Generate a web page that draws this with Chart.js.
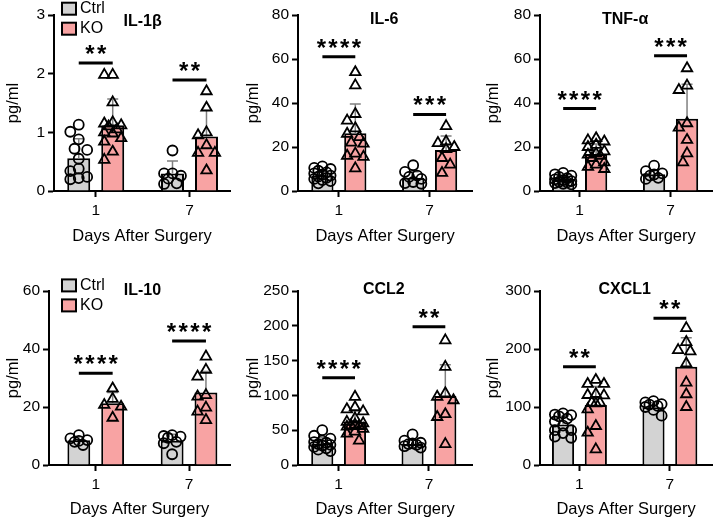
<!DOCTYPE html>
<html>
<head>
<meta charset="utf-8">
<script src="https://cdn.jsdelivr.net/npm/chart.js@4.4.1/dist/chart.umd.min.js"></script>
<style>
  body { margin: 0; background: #fff; }
  #wrap { position: relative; width: 720px; height: 523px; }
  #wrap canvas { position: absolute; }
</style>
</head>
<body>
<div id="wrap"></div>
<script>
// ---- data ----
const days = ['1', '7'];
const groups = ['Ctrl', 'KO'];

// IL-1β
const il1bCtrlD1 = [1.13, 1.01, 0.88, 0.72, 0.70, 0.55, 0.38, 0.34, 0.24, 0.22, 0.20];
const il1bCtrlD7 = [0.69, 0.30, 0.30, 0.26, 0.21, 0.13, 0.12];
const il1bKoD1 = [1.98, 1.98, 1.51, 1.17, 1.15, 1.12, 1.10, 1.05, 1.00, 0.98, 0.90, 0.84, 0.67, 0.53];
const il1bKoD7 = [1.70, 1.42, 1.00, 0.95, 0.78, 0.65, 0.65, 0.35];
const il1bMean = { ctrl: [0.56, 0.30], ko: [1.12, 0.93] };
const il1bSd = { ctrl: [0.33, 0.21], ko: [0.45, 0.45] };
const il1bSig = ['**', '**'];
const il1bSigY = [2.18, 1.89];

// IL-6
const il6CtrlD1 = [11.2, 10.5, 10.0, 9.2, 8.5, 8.0, 7.5, 7.0, 6.5, 6.0, 5.5, 5.0, 4.5, 3.5];
const il6CtrlD7 = [11.7, 8.7, 7.0, 6.4, 5.5, 4.1, 3.6, 3.3];
const il6KoD1 = [54, 48, 35, 32, 28.5, 26, 24.5, 22, 21.5, 17, 16, 15.5, 10.3];
const il6KoD7 = [29.5, 22.5, 21.8, 20.0, 19.0, 15.0, 12.0, 8.2];
const il6Mean = { ctrl: [7.1, 6.0], ko: [26.3, 18.6] };
const il6Sd = { ctrl: [2.2, 2.7], ko: [13.3, 6.4] };
const il6Sig = ['****', '***'];
const il6SigY = [61, 34.8];

// TNF-α
const tnfCtrlD1 = [8.2, 7.6, 7.0, 6.4, 5.8, 5.3, 4.9, 4.5, 4.2, 3.9, 3.6, 3.3, 3.0];
const tnfCtrlD7 = [11.5, 9.0, 8.0, 7.5, 7.0, 6.0, 5.5];
const tnfKoD1 = [24, 23, 22.5, 21, 20, 18, 17, 16.5, 16, 15, 13, 12, 11, 10];
const tnfKoD7 = [55.8, 47.9, 45.9, 30.8, 28.8, 23.2, 17.1, 13.0];
const tnfMean = { ctrl: [5.0, 7.6], ko: [16.8, 32.8] };
const tnfSd = { ctrl: [1.6, 2.0], ko: [4.6, 15.7] };
const tnfSig = ['****', '***'];
const tnfSigY = [37.5, 61.5];

// IL-10
const il10CtrlD1 = [10.3, 9.2, 8.6, 8.3, 8.0, 6.9];
const il10CtrlD7 = [10.3, 10.0, 9.8, 9.4, 8.0, 7.5, 3.7];
const il10KoD1 = [26.4, 22.8, 20.7, 20.1, 16.3];
const il10KoD7 = [37.4, 32.8, 30.5, 24.1, 23.6, 19.8, 18.4, 15.5];
const il10Mean = { ctrl: [8.5, 8.4], ko: [21.3, 25.0] };
const il10Sd = { ctrl: [1.2, 2.2], ko: [3.7, 7.2] };
const il10Sig = ['****', '****'];
const il10SigY = [31.6, 42.8];

// CCL2
const ccl2CtrlD1 = [50, 42, 38, 35, 33, 32, 30, 29, 28, 26, 24, 22, 20];
const ccl2CtrlD7 = [44, 35, 32, 31, 30, 29, 27, 25];
const ccl2KoD1 = [98, 83, 80, 77, 67, 62, 60, 58, 57, 56, 55, 52, 48, 45, 35];
const ccl2KoD7 = [179, 141, 103, 98, 93, 73, 69, 30];
const ccl2Mean = { ctrl: [31, 30], ko: [62, 99] };
const ccl2Sd = { ctrl: [8, 5.5], ko: [16, 45] };
const ccl2Sig = ['****', '**'];
const ccl2SigY = [125.5, 198.8];

// CXCL1
const cxcl1CtrlD1 = [89, 87, 86, 84, 80, 75, 68, 60, 60, 55, 49, 47];
const cxcl1CtrlD7 = [110, 108, 105, 104, 102, 100, 95, 85];
const cxcl1KoD1 = [146.6, 139.7, 139.7, 122.4, 120.7, 120, 107.5, 107.5, 106.3, 96, 67.2, 55.7, 27];
const cxcl1KoD7 = [236, 212, 198, 196, 175, 142, 122, 100];
const cxcl1Mean = { ctrl: [70, 99.4], ko: [103.4, 169.5] };
const cxcl1Sd = { ctrl: [14, 8], ko: [32, 50] };
const cxcl1Sig = ['**', '**'];
const cxcl1SigY = [169.5, 252.9];

// ---- panel layout ----
const panels = [
  { title: 'IL-1β', pts: [il1bCtrlD1, il1bCtrlD7, il1bKoD1, il1bKoD7], mean: il1bMean, sd: il1bSd, sig: il1bSig, sigY: il1bSigY,
    yMax: 3, yStep: 1, left: 0, top: 0, axisLeft: 54, right: 230, areaTop: 15, areaBottom: 191, xMin: -0.445, xMax: 1.432, titleY: 21.5, legendTop: 2 },
  { title: 'IL-6', pts: [il6CtrlD1, il6CtrlD7, il6KoD1, il6KoD7], mean: il6Mean, sd: il6Sd, sig: il6Sig, sigY: il6SigY,
    yMax: 80, yStep: 20, left: 240, top: 0, axisLeft: 58, right: 237, areaTop: 15, areaBottom: 191, xMin: -0.45, xMax: 1.469, titleY: 20 },
  { title: 'TNF-α', pts: [tnfCtrlD1, tnfCtrlD7, tnfKoD1, tnfKoD7], mean: tnfMean, sd: tnfSd, sig: tnfSig, sigY: tnfSigY,
    yMax: 80, yStep: 20, left: 480, top: 0, axisLeft: 60, right: 238, areaTop: 15, areaBottom: 191, xMin: -0.436, xMax: 1.458, titleY: 20 },
  { title: 'IL-10', pts: [il10CtrlD1, il10CtrlD7, il10KoD1, il10KoD7], mean: il10Mean, sd: il10Sd, sig: il10Sig, sigY: il10SigY,
    yMax: 60, yStep: 20, left: 0, top: 262, axisLeft: 49, right: 230, areaTop: 29, areaBottom: 203, xMin: -0.501, xMax: 1.439, titleY: 28.5, legendTop: 16.7 },
  { title: 'CCL2', pts: [ccl2CtrlD1, ccl2CtrlD7, ccl2KoD1, ccl2KoD7], mean: ccl2Mean, sd: ccl2Sd, sig: ccl2Sig, sigY: ccl2SigY,
    yMax: 250, yStep: 50, left: 240, top: 262, axisLeft: 58, right: 238, areaTop: 29, areaBottom: 203, xMin: -0.45, xMax: 1.479, titleY: 28 },
  { title: 'CXCL1', pts: [cxcl1CtrlD1, cxcl1CtrlD7, cxcl1KoD1, cxcl1KoD7], mean: cxcl1Mean, sd: cxcl1Sd, sig: cxcl1Sig, sigY: cxcl1SigY,
    yMax: 300, yStep: 100, left: 480, top: 262, axisLeft: 60, right: 238, areaTop: 29, areaBottom: 203, xMin: -0.436, xMax: 1.468, titleY: 28 }
];

const FONT = "'Liberation Sans', Arial, Helvetica, sans-serif";
const CTRL_COLOR = '#d3d3d3';
const KO_COLOR = '#f8a3a3';
const CAT_PCT = 0.725;
const BAR_PCT = 0.676;
const W = 240, H = 262;

// simple non-random swarm layout: shift overlapping points sideways
function swarm(values, yMax) {
  const dyT = yMax * 0.055, dxT = 0.1;
  const cands = [0, -0.045, 0.045, -0.09, 0.09];
  const placed = [];
  values.forEach(v => {
    let best = 0, bestScore = -1;
    for (const c of cands) {
      let m = Infinity;
      placed.forEach(p => {
        m = Math.min(m, Math.hypot((c - p.dx) / dxT, (v - p.y) / dyT));
      });
      if (m >= 1) { best = c; break; }
      if (m > bestScore) { bestScore = m; best = c; }
    }
    placed.push({ dx: best, y: v });
  });
  return placed.map(p => p.dx);
}

function pointData(vals, dayIdx, side, yMax) {
  const off = swarm(vals, yMax);
  const shift = side * CAT_PCT / 4;
  return vals.map((v, i) => ({ x: dayIdx + shift + off[i], y: v }));
}

const decorPlugin = {
  id: 'decor',
  afterDatasetDraw(chart, args) {
    const p = chart.options.plugins.decor.panel;
    if (args.meta.type !== 'bar') return;
    const key = args.index === 0 ? 'ctrl' : 'ko';
    const y = chart.scales.y;
    const ctx = chart.ctx;
    ctx.save();
    ctx.strokeStyle = '#808080';
    ctx.lineWidth = 1.5;
    args.meta.data.forEach((bar, i) => {
      const m = p.mean[key][i], s = p.sd[key][i];
      const yTop = y.getPixelForValue(m + s);
      const yBase = y.getPixelForValue(m);
      ctx.beginPath();
      ctx.moveTo(bar.x, yBase);
      ctx.lineTo(bar.x, yTop);
      ctx.moveTo(bar.x - 5.5, yTop);
      ctx.lineTo(bar.x + 5.5, yTop);
      ctx.stroke();
    });
    ctx.restore();
  },
  afterDraw(chart) {
    const p = chart.options.plugins.decor.panel;
    const ctx = chart.ctx;
    const x = chart.scales.x, y = chart.scales.y;
    const ctrlBars = chart.getDatasetMeta(0).data;
    const koBars = chart.getDatasetMeta(1).data;
    ctx.save();
    // significance brackets
    ctx.strokeStyle = '#000';
    ctx.fillStyle = '#000';
    ctx.lineWidth = 3;
    p.sig.forEach((label, i) => {
      const yy = y.getPixelForValue(p.sigY[i]);
      const x0 = ctrlBars[i].x, x1 = koBars[i].x;
      ctx.beginPath();
      ctx.moveTo(x0, yy);
      ctx.lineTo(x1, yy);
      ctx.stroke();
      ctx.font = 'bold 24px ' + FONT;
      ctx.textAlign = 'center';
      ctx.textBaseline = 'alphabetic';
      const pitch = 11.7;
      const cx = (x0 + x1) / 2;
      for (let k = 0; k < label.length; k++) {
        ctx.fillText(label[k], cx + (k - (label.length - 1) / 2) * pitch, yy - 1);
      }
    });
    // panel title
    ctx.font = 'bold 16px ' + FONT;
    ctx.textAlign = 'center';
    ctx.textBaseline = 'middle';
    ctx.fillText(p.title, x.getPixelForValue(0.5), p.titleY);
    // legend
    if (p.legendTop !== undefined) {
      const colors = [CTRL_COLOR, KO_COLOR];
      ctx.font = '16px ' + FONT;
      ctx.textAlign = 'left';
      groups.forEach((g, i) => {
        const top = p.legendTop + i * 20;
        ctx.fillStyle = colors[i];
        ctx.fillRect(62, top + 0.7, 14, 12);
        ctx.lineWidth = 2;
        ctx.strokeStyle = '#000';
        ctx.strokeRect(62, top + 0.7, 14, 12);
        ctx.fillStyle = '#000';
        ctx.fillText(g, 80, top + 7);
      });
    }
    ctx.restore();
  }
};

const wrap = document.getElementById('wrap');
panels.forEach((p, n) => {
  const canvas = document.createElement('canvas');
  canvas.width = W;
  canvas.height = H;
  canvas.style.left = p.left + 'px';
  canvas.style.top = p.top + 'px';
  wrap.appendChild(canvas);

  const xTitlePad = H - 9.9 - (p.areaBottom + (p.areaTop === 15 ? 45 : 44.7));

  const pointStyle = { type: 'scatter', showLine: false, backgroundColor: 'rgba(0,0,0,0)', borderColor: '#000',
    borderWidth: 1.8, order: 0 };

  new Chart(canvas.getContext('2d'), {
    type: 'bar',
    data: {
      datasets: [
        { label: groups[0], data: p.mean.ctrl.map((m, i) => ({ x: i, y: m })), backgroundColor: CTRL_COLOR,
          borderColor: '#000', borderWidth: 2, categoryPercentage: CAT_PCT, barPercentage: BAR_PCT, order: 2 },
        { label: groups[1], data: p.mean.ko.map((m, i) => ({ x: i, y: m })), backgroundColor: KO_COLOR,
          borderColor: '#000', borderWidth: 2, categoryPercentage: CAT_PCT, barPercentage: BAR_PCT, order: 2 },
        Object.assign({ data: pointData(p.pts[0], 0, -1, p.yMax), pointStyle: 'circle', pointRadius: 5 }, pointStyle),
        Object.assign({ data: pointData(p.pts[1], 1, -1, p.yMax), pointStyle: 'circle', pointRadius: 5 }, pointStyle),
        Object.assign({ data: pointData(p.pts[2], 0, 1, p.yMax), pointStyle: 'triangle', pointRadius: 6 }, pointStyle),
        Object.assign({ data: pointData(p.pts[3], 1, 1, p.yMax), pointStyle: 'triangle', pointRadius: 6 }, pointStyle)
      ]
    },
    options: {
      responsive: false,
      animation: false,
      events: [],
      layout: { padding: { left: 0, top: p.areaTop, right: W - p.right, bottom: 0 } },
      plugins: {
        legend: { display: false },
        tooltip: { enabled: false },
        decor: { panel: p }
      },
      scales: {
        x: {
          type: 'linear',
          offset: false,
          min: p.xMin,
          max: p.xMax,
          afterBuildTicks: s => { s.ticks = days.map((d, i) => ({ value: i })); },
          afterFit: s => { s.height = H - p.areaBottom; },
          ticks: { callback: v => days[v], color: '#000', font: { family: FONT, size: 15.5 }, padding: 4, maxRotation: 0, autoSkip: false },
          grid: { offset: false, drawOnChartArea: false, drawTicks: true, tickLength: 6, tickWidth: 2, tickColor: '#000' },
          border: { display: true, color: '#000', width: 2 },
          title: { display: true, text: 'Days After Surgery', color: '#000', font: { family: FONT, size: 16.5 }, padding: { top: 0, bottom: xTitlePad } }
        },
        y: {
          min: 0,
          max: p.yMax,
          afterFit: s => { s.width = p.axisLeft; },
          ticks: { stepSize: p.yStep, color: '#000', font: { family: FONT, size: 15.5 }, padding: 3 },
          grid: { drawOnChartArea: false, drawTicks: true, tickLength: 6, tickWidth: 2, tickColor: '#000' },
          border: { display: true, color: '#000', width: 2 },
          title: { display: true, text: 'pg/ml', color: '#000', font: { family: FONT, size: 16.5 }, padding: { top: 4, bottom: 0 } }
        }
      }
    },
    plugins: [decorPlugin]
  });
});
</script>
</body>
</html>
